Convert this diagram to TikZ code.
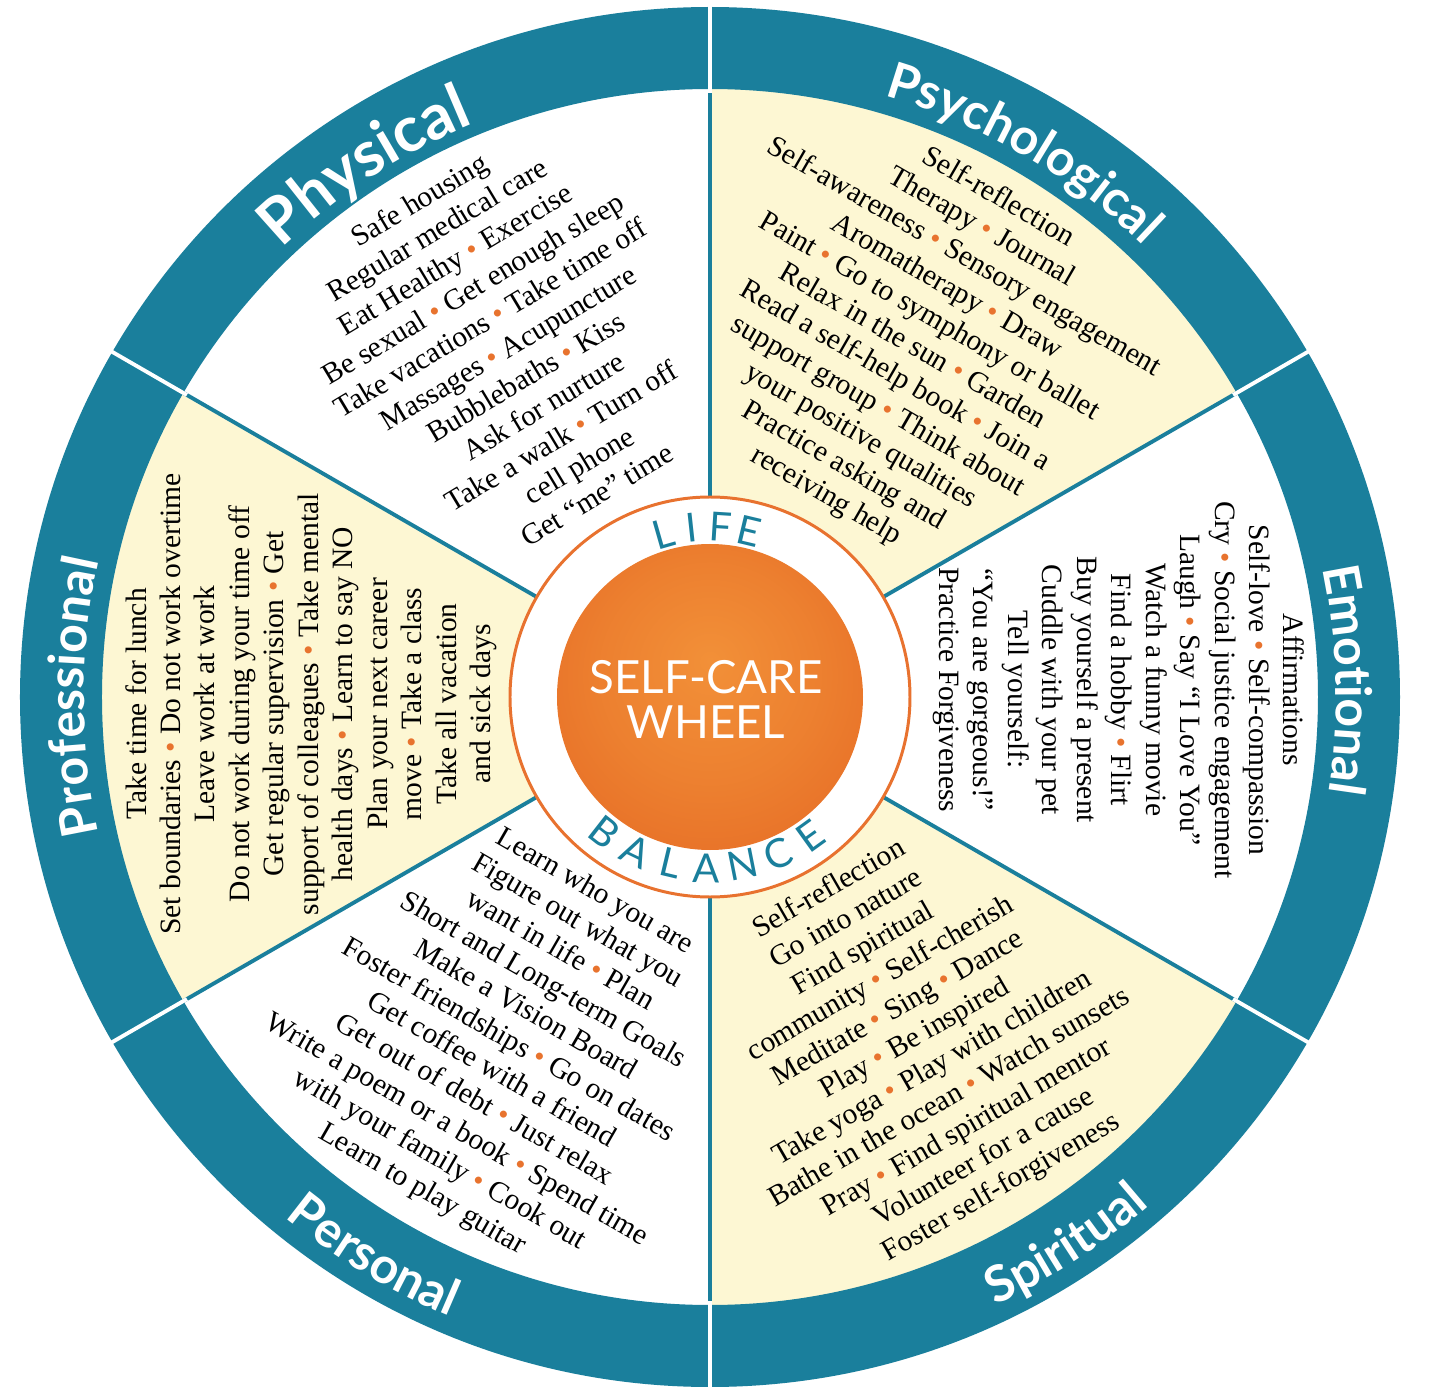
\documentclass[tikz,border=0pt]{standalone}
\usepackage{fontspec}
\setmainfont{Liberation Serif}
\newfontfamily\catfont{Lato}
\usetikzlibrary{decorations.text}
\definecolor{wheelteal}{HTML}{1A7F9C}
\definecolor{sectcream}{HTML}{FDF7D3}
\definecolor{hublight}{HTML}{F29038}
\definecolor{hubdark}{HTML}{E05A1C}
\definecolor{ringline}{HTML}{E8722F}
\definecolor{dotorange}{HTML}{E8732E}
\pgfdeclareradialshading{hubglow}{\pgfpoint{0bp}{6bp}}{color(0bp)=(hublight); color(18bp)=(hublight!70!hubdark); color(50bp)=(hubdark)}
\newcommand{\orb}{\ {\color{dotorange}\textbullet}\ }
\tikzset{
  spoke/.style={wheelteal, line width=2.2pt},
  bandgap/.style={white, line width=2.2pt},
  items/.style={align=center, inner sep=0pt, font=\fontsize{16.8}{19.6}\selectfont},
  ringletter/.style={inner sep=0pt, text=wheelteal, font=\catfont\fontsize{22.8}{22.8}\selectfont},
  hubtext/.style={align=center, inner sep=0pt, text=white, font=\catfont\fontsize{26}{25.6}\selectfont},
  catlabel/.style 2 args={decorate, decoration={text along path, text align=center, text color=white,
    text={|\catfont\bfseries\fontsize{#1}{#1}\selectfont|#2}}},
}

\begin{document}
\begin{tikzpicture}[x=0.02cm, y=0.02cm]

% ── canvas ──────────────────────────────────────────────────────
\fill[white] (-710,-696) rectangle (741,697);
\useasboundingbox (-710,-696) rectangle (741,697);
\coordinate (hub) at (0,0);

% ── shaded sectors ──────────────────────────────────────────────
\foreach \a in {30,150,270}
  \fill[sectcream] (hub) -- (\a:640) arc[start angle=\a, delta angle=60, radius=640] -- cycle;

% ── outer band and spokes ───────────────────────────────────────
\fill[wheelteal, even odd rule] (hub) circle[radius=690] (hub) circle[radius=608];
\foreach \a in {30,90,...,330} {
  \draw[spoke] (hub) -- (\a:609);
  \draw[bandgap] (\a:604) -- (\a:696);
}

% ── band labels ─────────────────────────────────────────────────
\path[catlabel={36}{Physical}]      (168:620) arc[start angle=168, end angle=78, radius=620];
\path[catlabel={28.5}{Psychological}] (105:626) arc[start angle=105, end angle=15, radius=626];
\path[catlabel={28.5}{Emotional}]   (46.5:626) arc[start angle=46.5, end angle=-43.5, radius=626];
\path[catlabel={28.5}{Professional}] (225:626) arc[start angle=225, end angle=135, radius=626];
\path[catlabel={28.5}{Spiritual}]   (-102:672) arc[start angle=-102, end angle=-12, radius=672];
\path[catlabel={28.5}{Personal}]    (-166:672) arc[start angle=-166, end angle=-76, radius=672];

% ── hub ─────────────────────────────────────────────────────────
\draw[ringline, line width=1.7pt, fill=white] (hub) circle[radius=200];
\shade[shading=hubglow] (hub) circle[radius=153];
\node[hubtext] (title) at (-4,-2) {SELF-CARE\\WHEEL};
\foreach \ch [count=\i, evaluate=\i as \ang using 106-(\i-1)*9.8] in {L,I,F,E}
  \node[ringletter, rotate=\ang-90] (life\i) at (\ang:170) {\ch};
\foreach \ch [count=\i, evaluate=\i as \ang using -128+(\i-1)*12.3] in {B,A,L,A,N,C,E}
  \node[ringletter, rotate=\ang+90] (bal\i) at (\ang:171) {\ch};

% ── sector texts ────────────────────────────────────────────────
\node[items, rotate=31] (physical) at (120:404) {Safe housing\\
  Regular medical care\\
  Eat Healthy\orb Exercise\\
  Be sexual\orb Get enough sleep\\
  Take vacations\orb Take time off\\
  Massages\orb Acupuncture\\
  Bubblebaths\orb Kiss\\
  Ask for nurture\\
  Take a walk\orb Turn off\\
  cell phone\\
  Get “me” time};

\node[items, rotate=-30] (psych) at (60:404) {Self-reflection\\
  Therapy\orb Journal\\
  Self-awareness\orb Sensory engagement\\
  Aromatherapy\orb Draw\\
  Paint\orb Go to symphony or ballet\\
  Relax in the sun\orb Garden\\
  Read a self-help book\orb Join a\\
  support group\orb Think about\\
  your positive qualities\\
  Practice asking and\\
  receiving help};

\node[items, rotate=-90] (emotional) at (1:409) {Affirmations\\
  Self-love\orb Self-compassion\\
  Cry\orb Social justice engagement\\
  Laugh\orb Say “I Love You”\\
  Watch a funny movie\\
  Find a hobby\orb Flirt\\
  Buy yourself a present\\
  Cuddle with your pet\\
  Tell yourself:\\
  “You are gorgeous!”\\
  Practice Forgiveness};

\node[items, rotate=30] (spiritual) at (-59:399) {Self-reflection\\
  Go into nature\\
  Find spiritual\\
  community\orb Self-cherish\\
  Meditate\orb Sing\orb Dance\\
  Play\orb Be inspired\\
  Take yoga\orb Play with children\\
  Bathe in the ocean\orb Watch sunsets\\
  Pray\orb Find spiritual mentor\\
  Volunteer for a cause\\
  Foster self-forgiveness};

\node[items, rotate=-30] (personal) at (-120.4:399) {Learn who you are\\
  Figure out what you\\
  want in life\orb Plan\\
  Short and Long-term Goals\\
  Make a Vision Board\\
  Foster friendships\orb Go on dates\\
  Get coffee with a friend\\
  Get out of debt\orb Just relax\\
  Write a poem or a book\orb Spend time\\
  with your family\orb Cook out\\
  Learn to play guitar};

\node[items, rotate=90] (professional) at (181:399) {Take time for lunch\\
  Set boundaries\orb Do not work overtime\\
  Leave work at work\\
  Do not work during your time off\\
  Get regular supervision\orb Get\\
  support of colleagues\orb Take mental\\
  health days\orb Learn to say NO\\
  Plan your next career\\
  move\orb Take a class\\
  Take all vacation\\
  and sick days};

\end{tikzpicture}
\end{document}
